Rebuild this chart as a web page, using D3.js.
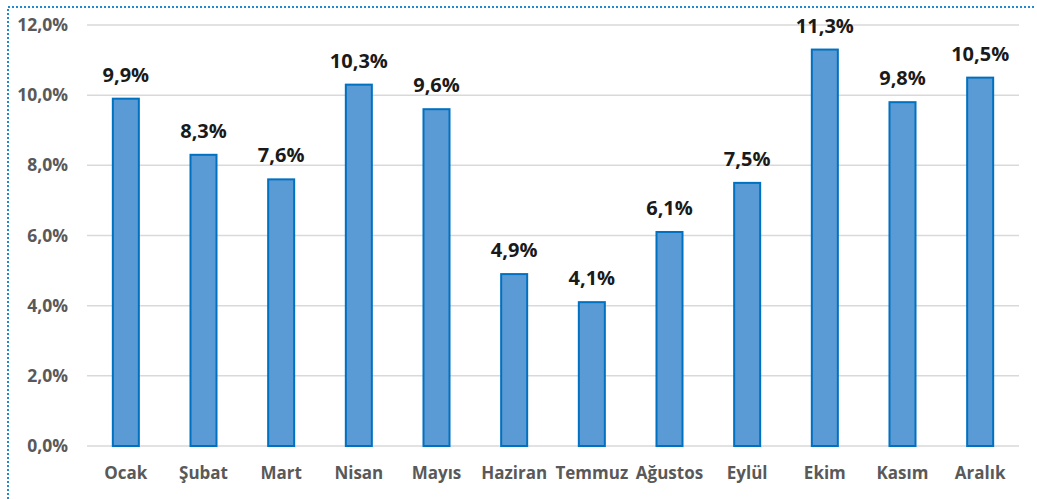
<!DOCTYPE html>
<html>
<head>
<meta charset="utf-8">
<script src="https://cdn.jsdelivr.net/npm/d3@7"></script>
<style>
  body { margin: 0; background: #fff; }
  svg { display: block; }
</style>
</head>
<body>
<script>
// aylar ve değerler
const months = ["Ocak", "Şubat", "Mart", "Nisan", "Mayıs", "Haziran", "Temmuz", "Ağustos", "Eylül", "Ekim", "Kasım", "Aralık"];
const values = [9.9, 8.3, 7.6, 10.3, 9.6, 4.9, 4.1, 6.1, 7.5, 11.3, 9.8, 10.5];
const yTicks = [0, 2, 4, 6, 8, 10, 12];

const width = 1037;
const height = 499;
const margin = { top: 25, right: 18, bottom: 53, left: 87 };

const fmt = (v) => v.toFixed(1).replace(".", ",") + "%";
const font = "'Open Sans', sans-serif";

const svg = d3.select("body").append("svg")
  .attr("width", width)
  .attr("height", height);

// noktalı çerçeve
svg.append("path")
  .attr("d", `M8,${height} L8,7 L1035,7`)
  .attr("fill", "none")
  .attr("stroke", "#1f8ad2")
  .attr("stroke-width", 2)
  .attr("stroke-dasharray", "2 2");

const x = d3.scaleBand()
  .domain(months)
  .range([margin.left, width - margin.right])
  .paddingInner(0.665)
  .paddingOuter(0.3325);

const y = d3.scaleLinear()
  .domain([0, 12])
  .range([height - margin.bottom, margin.top]);

// yatay ızgara çizgileri
svg.append("g")
  .selectAll("line")
  .data(yTicks)
  .join("line")
  .attr("x1", margin.left)
  .attr("x2", width - margin.right)
  .attr("y1", (d) => y(d))
  .attr("y2", (d) => y(d))
  .attr("stroke", "#d9d9d9")
  .attr("stroke-width", 1.5);

// Y ekseni etiketleri
const yAxis = d3.axisLeft(y).tickValues(yTicks).tickFormat(fmt).tickSize(0).tickPadding(19);
const gy = svg.append("g")
  .attr("transform", `translate(${margin.left},0)`)
  .call(yAxis);
gy.select(".domain").remove();
gy.selectAll("text")
  .attr("fill", "#595959")
  .style("font-family", font)
  .style("font-size", "17.5px")
  .style("font-weight", "bold");

// X ekseni etiketleri
const xAxis = d3.axisBottom(x).tickSize(0).tickPadding(21);
const gx = svg.append("g")
  .attr("transform", `translate(0,${y(0)})`)
  .call(xAxis);
gx.select(".domain").remove();
gx.selectAll("text")
  .attr("fill", "#595959")
  .style("font-family", font)
  .style("font-size", "17px")
  .style("font-weight", "bold");

// çubuklar
svg.append("g")
  .selectAll("rect")
  .data(values)
  .join("rect")
  .attr("x", (d, i) => x(months[i]))
  .attr("y", (d) => y(d))
  .attr("width", x.bandwidth())
  .attr("height", (d) => y(0) - y(d))
  .attr("fill", "#5b9bd5")
  .attr("stroke", "#0070c0")
  .attr("stroke-width", 2);

// değer etiketleri
svg.append("g")
  .selectAll("text")
  .data(values)
  .join("text")
  .attr("x", (d, i) => x(months[i]) + x.bandwidth() / 2)
  .attr("y", (d) => y(d) - 17)
  .attr("text-anchor", "middle")
  .attr("fill", "#1a1a1a")
  .style("font-family", font)
  .style("font-size", "20px")
  .style("font-weight", "bold")
  .text(fmt);
</script>
</body>
</html>
